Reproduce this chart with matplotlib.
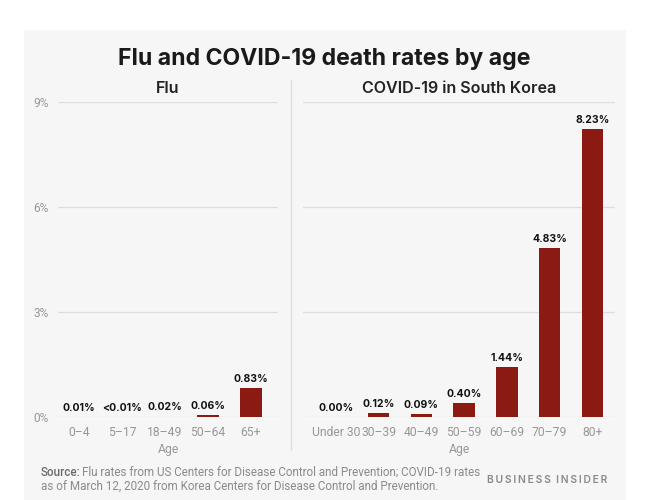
import matplotlib
matplotlib.use("Agg")
import matplotlib.pyplot as plt
from matplotlib.patches import Rectangle
from matplotlib.lines import Line2D

plt.rcParams['font.family'] = ['Inter', 'DejaVu Sans']

# ---- data ----
flu_ages = ["0–4", "5–17", "18–49", "50–64", "65+"]
flu_rates = [0.01, 0.005, 0.02, 0.06, 0.83]
flu_labels = ["0.01%", "<0.01%", "0.02%", "0.06%", "0.83%"]

covid_ages = ["Under 30", "30–39", "40–49", "50–59", "60–69", "70–79", "80+"]
covid_rates = [0.00, 0.12, 0.09, 0.40, 1.44, 4.83, 8.23]
covid_labels = ["0.00%", "0.12%", "0.09%", "0.40%", "1.44%", "4.83%", "8.23%"]

y_ticks = [0, 3, 6, 9]
y_ticklabels = ["0%", "3%", "6%", "9%"]

title = "Flu and COVID-19 death rates by age"
sub_left = "Flu"
sub_right = "COVID-19 in South Korea"

# ---- style ----
W, H = 648, 500
BAR = "#8a1a12"
GRID = "#dedede"
TICK = "#979797"
BG = "#f6f6f6"
NARROW = ['Roboto', 'DejaVu Sans']

fig = plt.figure(figsize=(W / 100, H / 100), dpi=100)
fig.patch.set_facecolor("white")

def fx(px):
    return px / W

def fy(py):
    return 1 - py / H

# panel background
fig.patches.append(Rectangle((fx(24), 0), fx(626) - fx(24), fy(30), transform=fig.transFigure,
                             facecolor=BG, edgecolor="none", zorder=-10))

y0, y9 = 417.3, 102.0
ax_bottom = fy(y0)
ax_height = (y0 - y9) / H

axL = fig.add_axes([fx(58), ax_bottom, fx(278) - fx(58), ax_height])
axR = fig.add_axes([fx(303), ax_bottom, fx(615) - fx(303), ax_height])

def style(ax, cats, vals, labels, xlim, show_y):
    ax.set_facecolor("none")
    x = range(len(cats))
    bars = ax.bar(x, vals, width=0.5, color=BAR, zorder=3)
    for b, lab in zip(bars, labels):
        ax.annotate(lab, (b.get_x() + b.get_width() / 2, b.get_height()),
                    xytext=(0, 3), textcoords="offset points",
                    ha="center", va="bottom", fontsize=7.5, fontweight="bold",
                    color="#111111", annotation_clip=False)
    ax.set_xlim(*xlim)
    ax.set_ylim(0, 9)
    ax.set_yticks(y_ticks)
    ax.yaxis.grid(True, color=GRID, linewidth=0.9, zorder=0)
    ax.set_axisbelow(True)
    ax.set_xticks(list(x))
    ax.set_xticklabels(cats, fontsize=8.7, color=TICK, family=NARROW)
    if show_y:
        ax.set_yticklabels(y_ticklabels, fontsize=8.6, color=TICK, family=NARROW)
    else:
        ax.set_yticklabels([])
    ax.tick_params(axis="both", length=0)
    ax.tick_params(axis="x", pad=6)
    ax.tick_params(axis="y", pad=7)
    for s in ax.spines.values():
        s.set_visible(False)
    ax.set_xlabel("Age", fontsize=8.7, color=TICK, labelpad=3, family=NARROW)

style(axL, flu_ages, flu_rates, flu_labels, (-0.49, 4.63), True)
style(axR, covid_ages, covid_rates, covid_labels, (-0.77, 6.53), False)

# divider
fig.add_artist(Line2D([fx(291), fx(291)], [fy(450), fy(80)], transform=fig.transFigure,
                      color=GRID, linewidth=0.9))

# titles
fig.text(fx(324), fy(65), title, ha="center", va="baseline", fontsize=16.6,
         fontweight="bold", color="#1a1a1a")
fig.text(fx(168), fy(93), sub_left, ha="center", va="baseline", fontsize=11.6,
         fontweight="semibold", color="#222222")
fig.text(fx(459), fy(93), sub_right, ha="center", va="baseline", fontsize=11.6,
         fontweight="semibold", color="#222222")

# footer
src = fig.text(fx(41), fy(476), "Source:", ha="left", va="baseline", fontsize=8.35,
               fontweight="medium", color="#6a6a6a", family=NARROW)
fig.canvas.draw()
bb = src.get_window_extent()
fig.text((bb.x1 + 1.5) / W, fy(476), "Flu rates from US Centers for Disease Control and Prevention; COVID-19 rates",
         ha="left", va="baseline", fontsize=8.35, color="#8a8a8a", family=NARROW)
fig.text(fx(41), fy(490), "as of March 12, 2020 from Korea Centers for Disease Control and Prevention.",
         ha="left", va="baseline", fontsize=8.35, color="#8a8a8a", family=NARROW)
brand = "BUSINESS INSIDER"
fig.text(fx(607), fy(480), "\u2009".join(brand).replace("\u2009 \u2009", "\u2009\u2009\u2009"),
         ha="right", va="center", fontsize=7.4, fontweight="semibold", color="#8a8a8a",
         family=["Inter", "DejaVu Sans"])

fig.savefig("out.png", dpi=100, facecolor="white")
